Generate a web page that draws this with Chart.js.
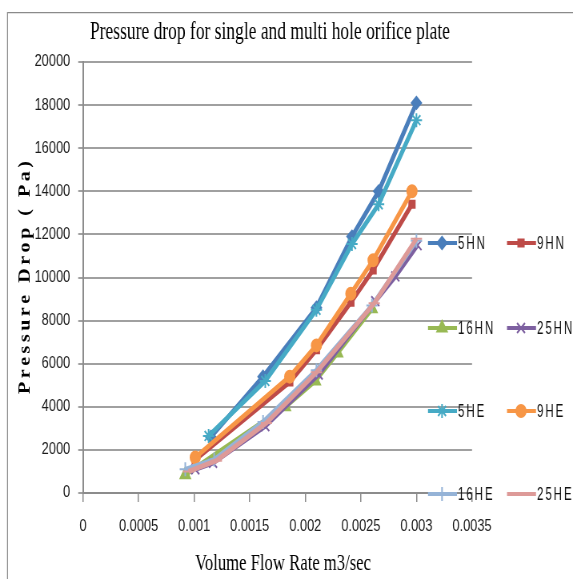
<!DOCTYPE html>
<html><head><meta charset="utf-8">
<script src="https://cdn.jsdelivr.net/npm/chart.js@4.4.1/dist/chart.umd.min.js"></script>
<style>
html,body{margin:0;padding:0;background:#fff;overflow:hidden;width:573px;height:579px}
#wrap{width:716px;height:579px;transform:scaleX(0.80028);transform-origin:0 0}
canvas{display:block}
</style>
</head><body>
<div id="wrap"><canvas id="c" width="716" height="579"></canvas></div>
<script>
// Volume flow rate (m3/sec) and pressure drop (Pa) for each orifice plate
const seriesNames = ['5HN', '9HN', '16HN', '25HN', '5HE', '9HE', '16HE', '25HE'];

const flow5HN = [0.00115, 0.00162, 0.00210, 0.00242, 0.00266, 0.00300];
const dp5HN   = [2600, 5400, 8600, 11900, 14000, 18100];

const flow9HN = [0.00101, 0.00186, 0.00210, 0.00241, 0.00261, 0.00296];
const dp9HN   = [1550, 5150, 6650, 8850, 10350, 13400];

const flow16HN = [0.00092, 0.00182, 0.00209, 0.00229, 0.00260];
const dp16HN   = [850, 4000, 5200, 6500, 8550];

const flow25HN = [0.00101, 0.00117, 0.00164, 0.00212, 0.00263, 0.00281, 0.00301];
const dp25HN   = [1100, 1400, 3100, 5500, 8900, 10050, 11500];

const flow5HE = [0.00113, 0.00164, 0.00210, 0.00242, 0.00266, 0.00300];
const dp5HE   = [2650, 5200, 8500, 11550, 13400, 17300];

const flow9HE = [0.00101, 0.00186, 0.00210, 0.00241, 0.00261, 0.00296];
const dp9HE   = [1650, 5400, 6850, 9250, 10800, 14000];

const flow16HE = [0.00092, 0.00118, 0.00162, 0.00210, 0.00260, 0.00300];
const dp16HE   = [1100, 1550, 3300, 5700, 8700, 11700];

const flow25HE = [0.00095, 0.00120, 0.00165, 0.00210, 0.00262, 0.00300];
const dp25HE   = [1000, 1500, 3250, 5600, 8800, 11800];

const xTickLabels = ['0', '0.0005', '0.001', '0.0015', '0.002', '0.0025', '0.003', '0.0035'];
const yTickLabels = ['0', '2000', '4000', '6000', '8000', '10000', '12000', '14000', '16000', '18000', '20000'];

const flows = [flow5HN, flow9HN, flow16HN, flow25HN, flow5HE, flow9HE, flow16HE, flow25HE];
const drops = [dp5HN, dp9HN, dp16HN, dp25HN, dp5HE, dp9HE, dp16HE, dp25HE];

// Line colours and marker shapes per series
const seriesColors = ['#4A7EBB', '#BE4B48', '#98B954', '#7D60A0', '#46AAC5', '#F79646', '#95B3D7', '#DD9A98'];
const seriesMarkers = ['rectRot', 'rect', 'triangle', 'crossRot', 'star', 'circle', 'cross', 'line'];
const markerRadius = [6, 5, 7, 7, 7, 6, 7, 7];

// The drawing is laid out on a wider canvas and squeezed horizontally by the page
const SX = 573 / 716;
const px = v => v / SX;

const datasets = seriesNames.map((name, i) => ({
  label: name,
  data: flows[i].map((q, k) => ({ x: q, y: drops[i][k] })),
  borderColor: seriesColors[i],
  backgroundColor: seriesColors[i],
  pointBackgroundColor: seriesColors[i],
  pointBorderColor: seriesColors[i],
  pointStyle: seriesMarkers[i],
  pointRadius: markerRadius[i],
  pointBorderWidth: 2,
  borderWidth: 5,
  tension: 0,
  fill: false,
  order: seriesNames.length - i
}));

const gridGray = '#a0a0a0';
const axisGray = '#8c8c8c';

// Frame, title, axis titles and legend drawn on the canvas
const decorations = {
  id: 'decorations',
  beforeDraw(chart) {
    const ctx = chart.ctx;
    ctx.save();
    ctx.strokeStyle = '#8a8a8a';
    ctx.lineWidth = 1.25;
    ctx.beginPath();
    ctx.moveTo(px(7.5), 579);
    ctx.lineTo(px(7.5), 12.5);
    ctx.lineTo(716, 12.5);
    ctx.stroke();
    ctx.restore();
  },
  afterDraw(chart) {
    const ctx = chart.ctx;
    const area = chart.chartArea;

    function fitted(text, cx, cy, font, width) {
      ctx.save();
      ctx.font = font;
      const w = ctx.measureText(text).width;
      ctx.translate(cx, cy);
      ctx.scale(width / w, 1);
      ctx.textAlign = 'center';
      ctx.textBaseline = 'middle';
      ctx.fillStyle = '#000';
      ctx.fillText(text, 0, 0);
      ctx.restore();
    }

    function spaced(text, x, y, font, gap, squeeze) {
      ctx.save();
      ctx.translate(x, y);
      ctx.scale(squeeze || 1, 1);
      ctx.font = font;
      let cx = 0;
      for (const ch of text) {
        ctx.fillText(ch, cx, 0);
        cx += ctx.measureText(ch).width + gap;
      }
      ctx.restore();
    }

    // chart title
    fitted('Pressure drop for single and multi hole orifice plate', px(270), 32, '25px "Liberation Serif"', px(360));
    // x axis title
    fitted('Volume Flow Rate m3/sec', px(283), 564, '24px "Liberation Serif"', px(176));

    // y axis title, letter-spaced and rotated
    ctx.save();
    const yTitle = 'Pressure Drop ( Pa)';
    const yFont = 'bold 20px "Liberation Serif"';
    ctx.font = yFont;
    let plain = 0;
    for (const ch of yTitle) plain += ctx.measureText(ch).width;
    const span = 233;
    const gap = (span - plain) / (yTitle.length - 1);
    ctx.translate(px(25), (area.top + area.bottom) / 2);
    ctx.rotate(-Math.PI / 2);
    ctx.fillStyle = '#000';
    ctx.textBaseline = 'middle';
    ctx.textAlign = 'left';
    spaced(yTitle, -span / 2, 1, yFont, gap);
    ctx.restore();

    // legend: two columns, four rows
    const rowY = [243, 328, 411, 494];
    const colX = [px(442), px(521)];
    ctx.save();
    chart.data.datasets.forEach((ds, i) => {
      const r = Math.floor(i / 2), c = i % 2;
      const cx = colX[c], cy = rowY[r];
      ctx.strokeStyle = ds.borderColor;
      ctx.lineWidth = 4;
      ctx.beginPath();
      ctx.moveTo(cx - px(14), cy);
      ctx.lineTo(cx + px(15), cy);
      ctx.stroke();
      if (ds.pointStyle !== 'line') {
        ctx.fillStyle = ds.pointBackgroundColor;
        ctx.strokeStyle = ds.pointBorderColor;
        ctx.lineWidth = 2;
        Chart.helpers.drawPoint(ctx, { pointStyle: ds.pointStyle, radius: ds.pointRadius, rotation: 0, borderWidth: 2 }, cx, cy);
      }
      ctx.fillStyle = '#111';
      ctx.textBaseline = 'middle';
      ctx.textAlign = 'left';
      spaced(ds.label, cx + px(16), cy + 1, '18px "Liberation Sans"', 3, 0.8);
    });
    ctx.restore();
  }
};

new Chart(document.getElementById('c'), {
  type: 'line',
  data: { datasets },
  options: {
    responsive: false,
    devicePixelRatio: 1,
    animation: false,
    layout: { padding: { left: 0, top: 62, right: 716 - px(472), bottom: 0 } },
    plugins: { legend: { display: false }, title: { display: false }, tooltip: { enabled: false } },
    scales: {
      x: {
        type: 'linear',
        min: 0,
        max: 0.0035,
        afterFit(scale) { scale.height = 86; },
        afterBuildTicks(scale) {
          scale.ticks = xTickLabels.map((t, i) => ({ value: i * 0.0005 }));
        },
        ticks: {
          callback: (v, i) => xTickLabels[i],
          font: { family: '"Liberation Sans"', size: 16 },
          color: '#1a1a1a',
          padding: 15,
          maxRotation: 0,
          autoSkip: false
        },
        grid: { display: true, drawOnChartArea: false, drawTicks: true, tickLength: 9, color: axisGray, lineWidth: 1.5 },
        border: { display: true, color: axisGray, width: 2 }
      },
      y: {
        type: 'linear',
        min: 0,
        max: 20000,
        afterFit(scale) { scale.width = px(83); },
        afterBuildTicks(scale) {
          scale.ticks = yTickLabels.map((t, i) => ({ value: i * 2000 }));
        },
        ticks: {
          callback: (v, i) => yTickLabels[i],
          font: { family: '"Liberation Sans"', size: 16 },
          color: '#1a1a1a',
          padding: 10,
          autoSkip: false
        },
        grid: { display: true, drawOnChartArea: true, drawTicks: true, tickLength: 6, color: gridGray, lineWidth: 2 },
        border: { display: true, color: axisGray, width: 2 }
      }
    }
  },
  plugins: [decorations]
});
</script>
</body></html>
